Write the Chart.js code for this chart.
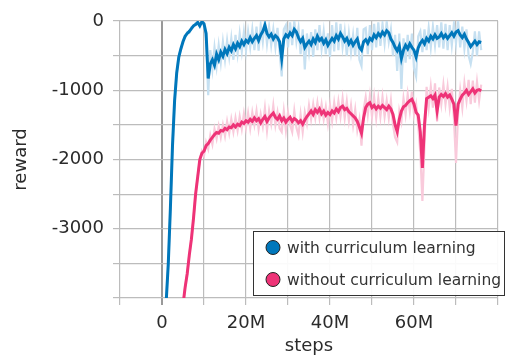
<!DOCTYPE html>
<html>
<head>
<meta charset="utf-8">
<script src="https://cdn.jsdelivr.net/npm/chart.js@4.4.0/dist/chart.umd.min.js"></script>
<style>
  body { margin: 0; background: #fff; }
  #wrap { width: 506px; height: 359px; }
</style>
</head>
<body>
<div id="wrap"><canvas id="rewardChart" width="506" height="359"></canvas></div>
<script>
// training steps, in millions (one point every 0.5M)
const steps = [
  0, 0.5, 1, 1.5, 2, 2.5, 3, 3.5, 4, 4.5,
  5, 5.5, 6, 6.5, 7, 7.5, 8, 8.5, 9, 9.5,
  10, 10.5, 11, 11.5, 12, 12.5, 13, 13.5, 14, 14.5,
  15, 15.5, 16, 16.5, 17, 17.5, 18, 18.5, 19, 19.5,
  20, 20.5, 21, 21.5, 22, 22.5, 23, 23.5, 24, 24.5,
  25, 25.5, 26, 26.5, 27, 27.5, 28, 28.5, 29, 29.5,
  30, 30.5, 31, 31.5, 32, 32.5, 33, 33.5, 34, 34.5,
  35, 35.5, 36, 36.5, 37, 37.5, 38, 38.5, 39, 39.5,
  40, 40.5, 41, 41.5, 42, 42.5, 43, 43.5, 44, 44.5,
  45, 45.5, 46, 46.5, 47, 47.5, 48, 48.5, 49, 49.5,
  50, 50.5, 51, 51.5, 52, 52.5, 53, 53.5, 54, 54.5,
  55, 55.5, 56, 56.5, 57, 57.5, 58, 58.5, 59, 59.5,
  60, 60.5, 61, 61.5, 62, 62.5, 63, 63.5, 64, 64.5,
  65, 65.5, 66, 66.5, 67, 67.5, 68, 68.5, 69, 69.5,
  70, 70.5, 71, 71.5, 72, 72.5, 73, 73.5, 74, 74.5,
  75, 75.5, 76
];

// with curriculum learning - smoothed
const withCurriculum = [
  -4600, -4400, -4050, -3500, -2700, -1800, -1150, -750, -520, -400,
  -300, -220, -180, -150, -110, -70, -50, -20, -70, -10,
  -40, -180, -830, -620, -560, -640, -480, -560, -450, -510,
  -410, -470, -380, -430, -340, -400, -320, -370, -290, -340,
  -280, -310, -240, -300, -250, -210, -280, -200, -150, -60,
  -180, -230, -190, -260, -210, -240, -300, -540, -260, -200,
  -230, -170, -210, -120, -160, -240, -300, -250, -380, -330,
  -290, -340, -260, -310, -220, -280, -250, -320, -270, -350,
  -300, -250, -290, -210, -260, -180, -230, -290, -250, -330,
  -280, -350, -300, -260, -380, -420, -300, -270, -320, -250,
  -280, -200, -240, -180, -220, -160, -200, -140, -170, -260,
  -310, -380, -430, -360, -540, -420, -350, -400, -330, -380,
  -420, -520, -390, -320, -280, -330, -250, -290, -220, -260,
  -200, -250, -230, -180, -240, -200, -250, -210, -170, -220,
  -160, -140, -200, -240, -190, -260, -310, -370, -330, -290,
  -340, -300, -310
];

// with curriculum learning - raw
const withCurriculumRaw = [
  -4600, -4400, -4050, -3500, -2700, -1800, -1150, -750, -500, -420,
  -280, -240, -160, -170, -90, -80, -30, -40, -50, 0,
  -60, -250, -1070, -420, -700, -380, -650, -350, -600, -300,
  -560, -280, -520, -250, -560, -200, -470, -180, -440, -160,
  -430, -150, -380, -120, -420, -80, -430, -60, -300, 0,
  -330, -80, -350, -120, -380, -100, -450, -800, -120, -60,
  -380, -20, -350, 0, -300, -100, -480, -120, -700, -180,
  -450, -160, -520, -120, -420, -60, -400, -150, -480, -180,
  -520, -60, -440, -20, -420, -40, -380, -150, -500, -180,
  -450, -200, -500, -100, -560, -650, -120, -100, -480, -60,
  -420, -40, -380, -20, -360, -40, -320, -10, -300, -120,
  -500, -200, -720, -180, -980, -250, -600, -200, -550, -180,
  -680, -800, -220, -150, -450, -120, -420, -100, -380, -80,
  -350, -60, -380, -20, -400, -40, -420, -60, -350, -40,
  -320, 0, -380, -80, -400, -120, -500, -620, -450, -150,
  -500, -150, -420
];

// without curriculum learning - smoothed
const withoutCurriculum = [
  -6000, -5900, -5800, -5700, -5600, -5500, -5300, -5000, -4700, -4400,
  -4100, -3850, -3650, -3380, -3150, -2850, -2500, -2250, -2000, -1910,
  -1880, -1800, -1770, -1720, -1680, -1640, -1610, -1620, -1580, -1590,
  -1550, -1570, -1530, -1540, -1500, -1530, -1490, -1510, -1460, -1480,
  -1440, -1460, -1420, -1450, -1400, -1440, -1410, -1470, -1420, -1380,
  -1450, -1400, -1360, -1330, -1390, -1420, -1370, -1440, -1400, -1460,
  -1420, -1390, -1450, -1410, -1430, -1470, -1440, -1490, -1430, -1380,
  -1340, -1300, -1350, -1280, -1320, -1270, -1340, -1300, -1360, -1320,
  -1350, -1300, -1330, -1270, -1310, -1250, -1230, -1280, -1260, -1310,
  -1340, -1370, -1400, -1450, -1530, -1620, -1400, -1250, -1200, -1180,
  -1250, -1220, -1270, -1230, -1260, -1220, -1250, -1280, -1230, -1270,
  -1350, -1500, -1600, -1420, -1300, -1240, -1220, -1180, -1150, -1130,
  -1200, -1320, -1360, -1600, -2120, -1500, -1120, -1100, -1080, -1120,
  -1070, -1300, -1100, -1060, -1090, -1050, -1100, -1070, -1130, -1200,
  -1510, -1200, -1130, -1070, -1040, -1000, -1060, -1020, -980, -1040,
  -1000, -990, -1010
];

// without curriculum learning - raw
const withoutCurriculumRaw = [
  -6000, -5900, -5800, -5700, -5600, -5500, -5300, -5000, -4700, -4400,
  -4100, -3850, -3650, -3380, -3150, -2850, -2500, -2250, -2000, -1880,
  -1950, -1750, -1850, -1650, -1780, -1560, -1700, -1520, -1680, -1500,
  -1660, -1450, -1620, -1420, -1600, -1400, -1580, -1380, -1560, -1340,
  -1540, -1330, -1550, -1320, -1500, -1300, -1560, -1350, -1520, -1260,
  -1580, -1300, -1480, -1220, -1500, -1320, -1550, -1600, -1300, -1580,
  -1320, -1500, -1600, -1300, -1540, -1650, -1350, -1600, -1320, -1480,
  -1220, -1420, -1200, -1400, -1180, -1400, -1200, -1420, -1240, -1480,
  -1220, -1440, -1180, -1400, -1160, -1380, -1120, -1400, -1160, -1440,
  -1220, -1500, -1280, -1580, -1420, -1800, -1280, -1100, -1350, -1080,
  -1380, -1100, -1400, -1120, -1380, -1100, -1380, -1150, -1400, -1150,
  -1500, -1680, -1750, -1300, -1450, -1120, -1350, -1060, -1300, -1020,
  -1350, -1200, -1500, -1900, -2600, -1800, -950, -1250, -950, -1250,
  -900, -1450, -960, -1200, -920, -1200, -950, -1250, -980, -1400,
  -2050, -1350, -1000, -1250, -900, -1150, -850, -1200, -860, -1180,
  -880, -1150, -920
];

const xLabels = [0, 20, 40, 60];
const yLabels = [0, -1000, -2000, -3000];

const BLUE = '#0077bb', BLUE_LIGHT = '#c6e0f1';
const PINK = '#ee3377', PINK_LIGHT = '#f9cadb';

const toPoints = vals => vals.map((v, i) => ({ x: steps[i], y: v }));

// legend drawn inside the plot, bottom right
const legendBox = {
  id: 'legendBox',
  afterDatasetsDraw(chart) {
    const ctx = chart.ctx;
    const items = chart.data.datasets.filter(d => d.inLegend);
    ctx.save();
    ctx.fillStyle = 'rgba(255,255,255,0.92)';
    ctx.strokeStyle = '#333';
    ctx.lineWidth = 1;
    ctx.fillRect(253.5, 231.5, 251, 64);
    ctx.strokeRect(253.5, 231.5, 251, 64);
    items.forEach((d, i) => {
      const y = 247.5 + i * 32;
      ctx.beginPath();
      ctx.arc(273, y, 7, 0, Math.PI * 2);
      ctx.fillStyle = d.borderColor;
      ctx.fill();
      ctx.strokeStyle = '#222';
      ctx.stroke();
      ctx.fillStyle = '#333';
      ctx.font = '15.5px "DejaVu Sans"';
      ctx.textBaseline = 'middle';
      ctx.fillText(d.label, 287, y + 1);
    });
    ctx.restore();
  }
};

Chart.defaults.font.family = '"DejaVu Sans", sans-serif';
Chart.defaults.color = '#2b2b2b';

new Chart(document.getElementById('rewardChart'), {
  type: 'line',
  data: {
    datasets: [
      { label: 'with curriculum learning', data: toPoints(withCurriculum), borderColor: BLUE, borderWidth: 3, order: 1, inLegend: true },
      { label: 'without curriculum learning', data: toPoints(withoutCurriculum), borderColor: PINK, borderWidth: 3, order: 0, inLegend: true },
      { label: 'with (raw)', data: toPoints(withCurriculumRaw), borderColor: BLUE_LIGHT, borderWidth: 2.2, order: 3 },
      { label: 'without (raw)', data: toPoints(withoutCurriculumRaw), borderColor: PINK_LIGHT, borderWidth: 2.2, order: 2 }
    ]
  },
  options: {
    responsive: false,
    animation: false,
    devicePixelRatio: 1,
    events: [],
    layout: { padding: { left: 0, top: 21, right: 1, bottom: 0 } },
    elements: { point: { radius: 0 }, line: { tension: 0 } },
    plugins: { legend: { display: false }, tooltip: { enabled: false } },
    scales: {
      x: {
        type: 'linear',
        min: -10, max: 80,
        afterFit: s => { s.height = 61; },
        border: { display: false },
        grid: {
          color: c => c.tick && c.tick.value === 0 ? '#999' : '#bcbcbc',
          lineWidth: c => c.tick && c.tick.value === 0 ? 2 : 1.2,
          tickLength: 7
        },
        ticks: {
          stepSize: 10,
          autoSkip: false,
          maxRotation: 0,
          padding: 8,
          font: { size: 18 },
          callback: v => xLabels.includes(v) ? (v === 0 ? '0' : v + 'M') : ''
        },
        title: { display: true, text: 'steps', font: { size: 18 }, padding: { top: 0, bottom: 2 } }
      },
      y: {
        min: -4000, max: 0,
        afterFit: s => { s.width = 120; },
        border: { display: false },
        grid: { color: '#bcbcbc', lineWidth: 1.2, tickLength: 7 },
        ticks: {
          stepSize: 500,
          autoSkip: false,
          padding: 9,
          font: { size: 18 },
          callback: v => yLabels.includes(v) ? String(v) : ''
        },
        title: { display: true, text: 'reward', font: { size: 18 }, padding: { top: 11, bottom: 0 } }
      }
    }
  },
  plugins: [legendBox]
});
</script>
</body>
</html>
